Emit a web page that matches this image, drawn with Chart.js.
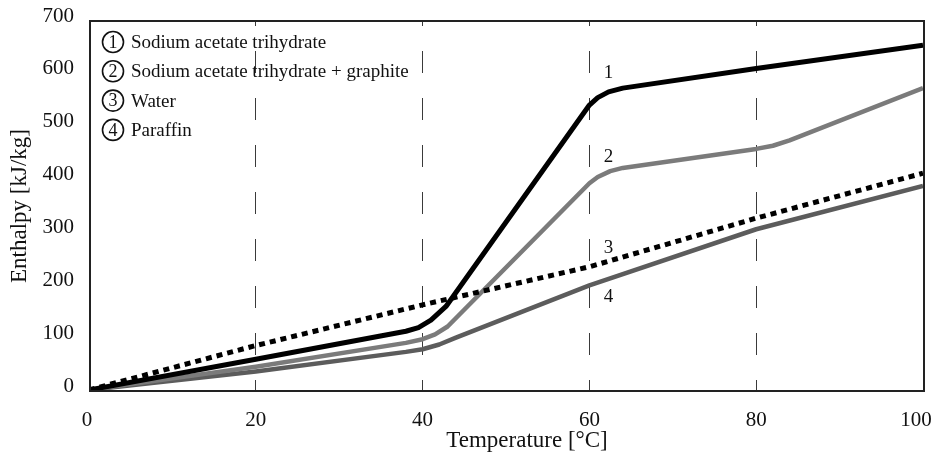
<!DOCTYPE html>
<html><head><meta charset="utf-8">
<script src="https://cdn.jsdelivr.net/npm/chart.js@4/dist/chart.umd.min.js"></script>
<style>html,body{margin:0;padding:0;background:#fff;}#c{display:block;}</style>
</head><body>
<canvas id="c" width="935" height="455"></canvas>
<script>
// ---- data ----
const xTicks = [0, 20, 40, 60, 80, 100];
const yTicks = [0, 100, 200, 300, 400, 500, 600, 700];

const seriesNums  = ['1', '2', '3', '4'];
const seriesNames = ['Sodium acetate trihydrate', 'Sodium acetate trihydrate + graphite', 'Water', 'Paraffin'];

// 1: Sodium acetate trihydrate
const t1 = [0, 20, 38, 39.5, 41, 42.8, 60, 61, 62.3, 64, 80, 100];
const h1 = [2, 60, 113, 120, 134, 160, 541, 555, 566, 573, 610, 654];
// 2: Sodium acetate trihydrate + graphite
const t2 = [0, 20, 38, 40, 41.5, 43, 60, 61, 62.5, 64, 80, 82, 84, 100];
const h2 = [2, 46, 91, 98, 107, 122, 393, 405, 416, 422, 458, 464, 474, 573];
// 3: Water
const t3 = [0, 20, 40, 60, 80, 100];
const h3 = [2, 86, 163, 235, 327, 412];
// 4: Paraffin
const t4 = [0, 20, 38, 40, 42, 44, 60, 80, 100];
const h4 = [2, 37, 74, 79, 88, 101, 200, 306, 388];

// curve number tags (data coordinates)
const tagT = [62.3, 62.3, 62.3, 62.3];
const tagH = [602, 443, 271, 178];

const xTitle = 'Temperature [°C]';
const yTitle = 'Enthalpy [kJ/kg]';

// ---- helpers ----
const pts = (t, h) => t.map((v, i) => ({x: v, y: h[i]}));
const SERIF = '"Liberation Serif", "Times New Roman", serif';

const decorPlugin = {
  id: 'decor',
  beforeDraw(chart) {
    // keep the first/last x tick labels inside the canvas like the reference
    const xs = chart.scales.x;
    const items = xs.getLabelItems(chart.chartArea);
    if (items.length) {
      const first = items[0].options.translation;
      const last = items[items.length - 1].options.translation;
      first[0] = first[0] - 2;
      last[0] = Math.min(last[0], 916);
    }
  },
  afterDatasetsDraw(chart) {
    const {ctx, chartArea: a, scales} = chart;
    ctx.save();
    // frame
    ctx.strokeStyle = '#222';
    ctx.lineWidth = 2;
    ctx.strokeRect(a.left + 1, a.top, a.right - a.left, a.bottom - a.top);
    // curve tags
    ctx.fillStyle = '#111';
    ctx.font = '19px ' + SERIF;
    ctx.textAlign = 'center';
    ctx.textBaseline = 'middle';
    for (let i = 0; i < seriesNums.length; i++) {
      ctx.fillText(seriesNums[i], scales.x.getPixelForValue(tagT[i]), scales.y.getPixelForValue(tagH[i]));
    }
    // legend
    const cx = 113, y0 = 42, dy = 29.3, r = 10.5;
    for (let i = 0; i < seriesNames.length; i++) {
      const cy = y0 + i * dy;
      ctx.beginPath();
      ctx.arc(cx, cy, r, 0, Math.PI * 2);
      ctx.lineWidth = 1.6;
      ctx.strokeStyle = '#111';
      ctx.stroke();
      ctx.font = '18px ' + SERIF;
      ctx.textAlign = 'center';
      ctx.textBaseline = 'middle';
      ctx.fillText(seriesNums[i], cx, cy + 1);
      ctx.font = '19px ' + SERIF;
      ctx.textAlign = 'left';
      ctx.fillText(seriesNames[i], 131, cy + 1);
    }
    // x axis title
    ctx.font = '23px ' + SERIF;
    ctx.textAlign = 'center';
    ctx.textBaseline = 'alphabetic';
    ctx.fillText(xTitle, 527, 447);
    ctx.restore();
  }
};

new Chart(document.getElementById('c'), {
  type: 'line',
  data: {
    datasets: [
      {label: seriesNames[0], data: pts(t1, h1), borderColor: '#000', borderWidth: 5},
      {label: seriesNames[2], data: pts(t3, h3), borderColor: '#000', borderWidth: 5, borderDash: [6, 5], borderCapStyle: 'butt'},
      {label: seriesNames[1], data: pts(t2, h2), borderColor: '#7b7b7b', borderWidth: 4.5},
      {label: seriesNames[3], data: pts(t4, h4), borderColor: '#5c5c5c', borderWidth: 4.5}
    ]
  },
  options: {
    responsive: false,
    animation: false,
    events: [],
    elements: {point: {radius: 0}, line: {fill: false, tension: 0, borderJoinStyle: 'round'}},
    layout: {padding: {top: 21, right: 12, left: 0, bottom: 0}},
    plugins: {legend: {display: false}, tooltip: {enabled: false}},
    scales: {
      x: {
        type: 'linear', min: 0, max: 100,
        afterBuildTicks: s => { s.ticks = xTicks.map(v => ({value: v})); },
        ticks: {font: {family: SERIF, size: 21}, color: '#111', padding: 17, maxRotation: 0, autoSkip: false},
        grid: {
          drawTicks: false, lineWidth: 1,
          color: c => (c.tick && (c.tick.value === 0 || c.tick.value === 100)) ? 'rgba(0,0,0,0)' : '#3a3a3a'
        },
        border: {display: false, dash: [22, 25], dashOffset: 17},
        afterFit: s => { s.height = 64; s.paddingLeft = 0; s.paddingRight = 0; }
      },
      y: {
        type: 'linear', min: 0, max: 700,
        afterBuildTicks: s => { s.ticks = yTicks.map(v => ({value: v})); },
        ticks: {font: {family: SERIF, size: 21}, color: '#111', padding: 15, labelOffset: -5},
        grid: {display: false, drawTicks: false},
        border: {display: false},
        title: {display: true, text: yTitle, font: {family: SERIF, size: 23}, color: '#111', padding: {top: 6, bottom: 0}},
        afterFit: s => { s.width = 89; s.paddingTop = 0; s.paddingBottom = 0; }
      }
    }
  },
  plugins: [decorPlugin]
});
</script>
</body></html>
